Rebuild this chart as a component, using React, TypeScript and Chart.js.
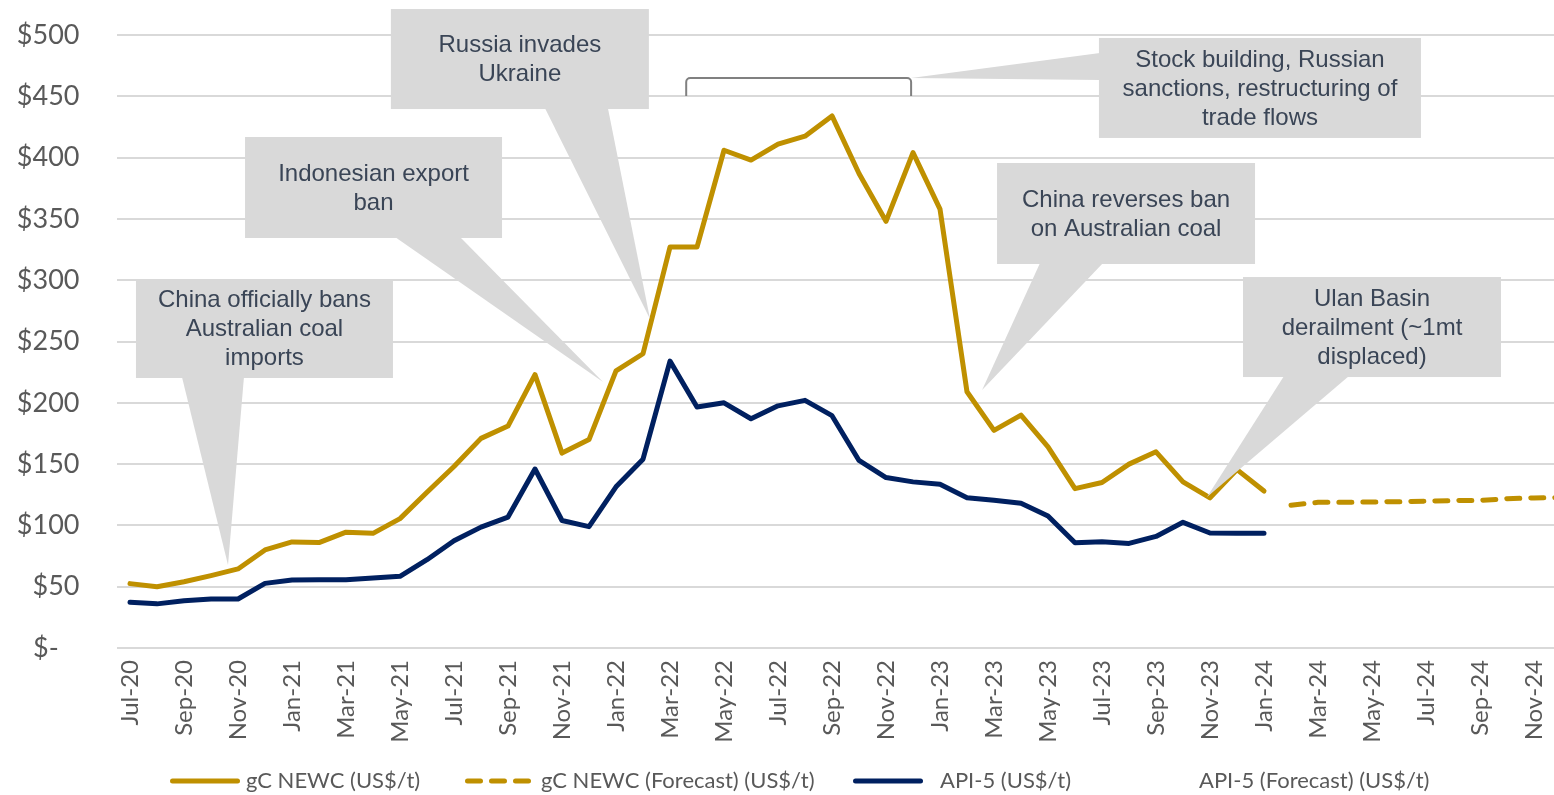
import React, { useEffect, useRef } from "react";
import { Chart, registerables } from "chart.js";

Chart.register(...registerables);

// ---------- DATA ----------
const months = [
  "Jul-20", "Aug-20", "Sep-20", "Oct-20", "Nov-20", "Dec-20",
  "Jan-21", "Feb-21", "Mar-21", "Apr-21", "May-21", "Jun-21",
  "Jul-21", "Aug-21", "Sep-21", "Oct-21", "Nov-21", "Dec-21",
  "Jan-22", "Feb-22", "Mar-22", "Apr-22", "May-22", "Jun-22",
  "Jul-22", "Aug-22", "Sep-22", "Oct-22", "Nov-22", "Dec-22",
  "Jan-23", "Feb-23", "Mar-23", "Apr-23", "May-23", "Jun-23",
  "Jul-23", "Aug-23", "Sep-23", "Oct-23", "Nov-23", "Dec-23",
  "Jan-24", "Feb-24", "Mar-24", "Apr-24", "May-24", "Jun-24",
  "Jul-24", "Aug-24", "Sep-24", "Oct-24", "Nov-24", "Dec-24",
];

const gcNewc = [
  52.5, 50, 54, 59, 64.5, 80,
  86.5, 86, 94.5, 93.5, 105.5, 127,
  148, 171, 181, 223, 159, 170,
  226, 240, 327, 327, 406, 398,
  411, 417.5, 434, 387, 348, 404,
  358, 209, 177.5, 190, 164, 130,
  135, 150, 160, 135.5, 122.5, 145.5,
  128, null, null, null, null, null,
  null, null, null, null, null, null,
];

const gcNewcForecast = [
  null, null, null, null, null, null,
  null, null, null, null, null, null,
  null, null, null, null, null, null,
  null, null, null, null, null, null,
  null, null, null, null, null, null,
  null, null, null, null, null, null,
  null, null, null, null, null, null,
  null, 116.5, 118.8, 118.8, 119.1, 119.3,
  119.8, 120.2, 120.4, 121.8, 122.4, 122.6,
];

const api5 = [
  37.3, 36, 38.5, 40, 40, 52.7,
  55.5, 55.7, 55.7, 57, 58.5, 72,
  87.5, 98.6, 106.8, 146, 104, 99,
  131.5, 154, 234, 196.5, 200, 187,
  197.5, 202, 189.5, 153, 139, 135.5,
  133.5, 122.6, 120.5, 118, 107.6, 85.8,
  86.6, 85.3, 91, 102.5, 93.8, 93.5,
  93.5, null, null, null, null, null,
  null, null, null, null, null, null,
];

const api5Forecast: (number | null)[] = [];

const seriesLabels = [
  "gC NEWC (US$/t)",
  "gC NEWC (Forecast) (US$/t)",
  "API-5 (US$/t)",
  "API-5 (Forecast) (US$/t)",
];

const yTickValues = [0, 50, 100, 150, 200, 250, 300, 350, 400, 450, 500];

// Annotations (anchored in data coordinates: [category index, value])
const callouts = [
  { lines: ["China officially bans", "Australian coal", "imports"], center: [4.98, 260.6], w: 257, h: 99, side: "bottom", base: [46, 108], tip: [3.63, 67.7] },
  { lines: ["Indonesian export", "ban"], center: [9.02, 375.6], w: 257, h: 101, side: "bottom", base: [150, 215], tip: [17.52, 217] },
  { lines: ["Russia invades", "Ukraine"], center: [14.44, 480.4], w: 258, h: 100, side: "bottom", base: [154, 217], tip: [19.26, 268.4] },
  { lines: ["Stock building, Russian", "sanctions, restructuring of", "trade flows"], center: [41.85, 456.8], w: 322, h: 100, side: "left", base: [15, 42], tip: [28.93, 464.9] },
  { lines: ["China reverses ban", "on Australian coal"], center: [36.89, 354.4], w: 258, h: 101, side: "bottom", base: [43, 106], tip: [31.56, 210.4] },
  { lines: ["Ulan Basin", "derailment (~1mt", "displaced)"], center: [46.0, 261.8], w: 258, h: 100, side: "bottom", base: [41, 106], tip: [39.89, 123.2] },
];

const bracket = { from: 20.6, to: 28.93, top: 464.9, bottom: 450.2 };

// ---------- STYLE ----------
const GOLD = "#BF9000";
const NAVY = "#002060";
const TICK = "#595959";
const GRID = "#D9D9D9";
const BOX = "#D9D9D9";
const BOX_TEXT = "#3A4556";

const calloutPlugin = {
  id: "callouts",
  afterDatasetsDraw(chart: any) {
    const { ctx, scales } = chart;
    const xs = scales.x;
    const ys = scales.y;
    ctx.save();
    // bracket
    const bx0 = xs.getPixelForValue(bracket.from);
    const bx1 = xs.getPixelForValue(bracket.to);
    const byT = ys.getPixelForValue(bracket.top);
    const byB = ys.getPixelForValue(bracket.bottom);
    ctx.strokeStyle = "#808080";
    ctx.lineWidth = 2;
    ctx.beginPath();
    ctx.moveTo(bx0, byB);
    ctx.arcTo(bx0, byT, bx0 + 4, byT, 4);
    ctx.arcTo(bx1, byT, bx1, byT + 4, 4);
    ctx.lineTo(bx1, byB);
    ctx.stroke();

    for (const c of callouts) {
      const cx = xs.getPixelForValue(c.center[0]);
      const cy = ys.getPixelForValue(c.center[1]);
      const left = cx - c.w / 2;
      const top = cy - c.h / 2;
      const tx = xs.getPixelForValue(c.tip[0]);
      const ty = ys.getPixelForValue(c.tip[1]);
      ctx.fillStyle = BOX;
      ctx.fillRect(left, top, c.w, c.h);
      ctx.beginPath();
      if (c.side === "bottom") {
        ctx.moveTo(left + c.base[0], top + c.h - 1);
        ctx.lineTo(tx, ty);
        ctx.lineTo(left + c.base[1], top + c.h - 1);
      } else {
        ctx.moveTo(left + 1, top + c.base[0]);
        ctx.lineTo(tx, ty);
        ctx.lineTo(left + 1, top + c.base[1]);
      }
      ctx.closePath();
      ctx.fill();
      ctx.fillStyle = BOX_TEXT;
      ctx.font = '24px "Liberation Sans", Arial, sans-serif';
      ctx.textAlign = "center";
      ctx.textBaseline = "middle";
      const lh = 29;
      const n = c.lines.length;
      c.lines.forEach((ln, i) => {
        ctx.fillText(ln, cx, cy + (i - (n - 1) / 2) * lh + 1);
      });
    }
    ctx.restore();
  },
};

const legendLayout = [
  { sym: 170, text: 246 },
  { sym: 465, text: 541 },
  { sym: 853, text: 940 },
  { sym: 1130, text: 1199 },
];

const legendPlugin = {
  id: "customLegend",
  afterDraw(chart: any) {
    const { ctx } = chart;
    const y = 781;
    ctx.save();
    chart.data.datasets.forEach((ds: any, i: number) => {
      const pos = legendLayout[i];
      if (!pos) return;
      if (ds.borderColor && ds.borderColor !== "rgba(0,0,0,0)") {
        ctx.strokeStyle = ds.borderColor;
        ctx.lineWidth = 5;
        ctx.lineCap = "round";
        ctx.setLineDash(ds.borderDash || []);
        ctx.beginPath();
        ctx.moveTo(pos.sym + 2.5, y);
        ctx.lineTo(pos.sym + 67.5, y);
        ctx.stroke();
        ctx.setLineDash([]);
      }
      ctx.fillStyle = TICK;
      ctx.font = '22px Lato, "Open Sans", sans-serif';
      ctx.textAlign = "left";
      ctx.textBaseline = "middle";
      ctx.fillText(ds.label, pos.text, y);
    });
    ctx.restore();
  },
};

export default function App() {
  const ref = useRef<HTMLCanvasElement | null>(null);

  useEffect(() => {
    if (!ref.current) return;
    const lineBase = {
      borderWidth: 5,
      pointRadius: 0,
      pointHoverRadius: 0,
      borderCapStyle: "round",
      borderJoinStyle: "round",
      tension: 0,
      fill: false,
      spanGaps: false,
    };
    const chart = new Chart(ref.current, {
      type: "line",
      data: {
        labels: months,
        datasets: [
          { ...lineBase, label: seriesLabels[0], data: gcNewc, borderColor: GOLD, backgroundColor: GOLD },
          { ...lineBase, label: seriesLabels[1], data: gcNewcForecast, borderColor: GOLD, backgroundColor: GOLD, borderDash: [13, 11] },
          { ...lineBase, label: seriesLabels[2], data: api5, borderColor: NAVY, backgroundColor: NAVY },
          { ...lineBase, label: seriesLabels[3], data: api5Forecast, borderColor: "rgba(0,0,0,0)", backgroundColor: "rgba(0,0,0,0)" },
        ],
      } as any,
      options: {
        responsive: false,
        maintainAspectRatio: false,
        animation: false,
        devicePixelRatio: 1,
        layout: { padding: { top: 35, right: 5.5, bottom: 47, left: 0 } },
        plugins: {
          legend: { display: false },
          tooltip: { enabled: false },
        },
        scales: {
          x: {
            type: "category",
            offset: true,
            grid: { display: false, drawTicks: false },
            border: { display: false },
            ticks: {
              autoSkip: false,
              minRotation: 90,
              maxRotation: 90,
              padding: 12,
              color: TICK,
              font: { family: 'Lato, "Open Sans", sans-serif', size: 24 },
              callback: (_v: any, i: number) => (i % 2 === 0 ? months[i] : ""),
            },
            afterFit: (scale: any) => {
              scale.height = 100;
              scale.paddingLeft = 0;
              scale.paddingRight = 0;
            },
          },
          y: {
            min: 0,
            max: 500,
            afterBuildTicks: (scale: any) => {
              scale.ticks = yTickValues.map((v) => ({ value: v }));
            },
            grid: { color: GRID, lineWidth: 2, drawTicks: false },
            border: { display: false },
            ticks: {
              padding: 37,
              color: TICK,
              font: { family: 'Lato, "Open Sans", sans-serif', size: 27 },
              callback: (v: any) => (Number(v) === 0 ? "$-   " : "$" + v),
            },
            afterFit: (scale: any) => {
              scale.width = 116.5;
              scale.paddingTop = 0;
              scale.paddingBottom = 0;
            },
          },
        },
      } as any,
      plugins: [calloutPlugin, legendPlugin],
    });
    return () => chart.destroy();
  }, []);

  return (
    <div
      style={{
        position: "fixed",
        left: 0,
        top: 0,
        width: 1554,
        height: 795,
        overflow: "hidden",
        background: "#ffffff",
      }}
    >
      <canvas ref={ref} width={1580} height={795} style={{ display: "block" }} />
    </div>
  );
}
